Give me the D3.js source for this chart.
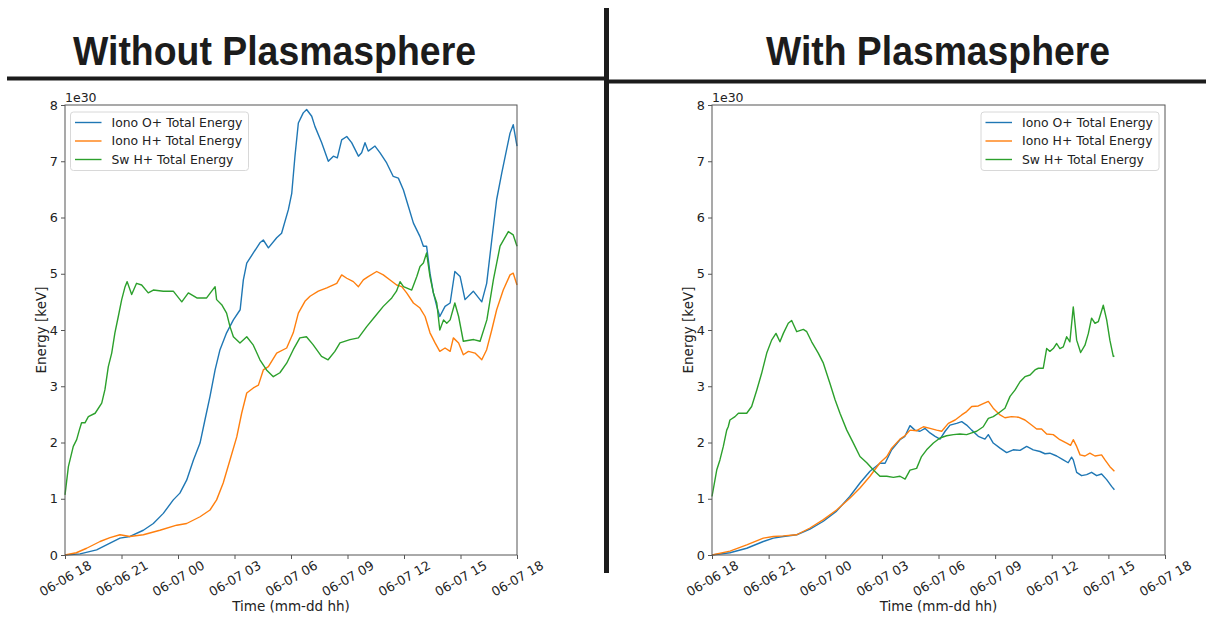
<!DOCTYPE html>
<html><head><meta charset="utf-8">
<script src="https://cdn.jsdelivr.net/npm/d3@7"></script>
<style>body{margin:0;background:#fff}</style>
</head><body>
<svg id="c" width="1206" height="617" xmlns="http://www.w3.org/2000/svg"></svg>
<script>
// ---- Data (hours since 06-06 18:00, energy in units of 1e30 keV) ----
const titles = ["Without Plasmasphere", "With Plasmasphere"];
const seriesNames = ["Iono O+ Total Energy", "Iono H+ Total Energy", "Sw H+ Total Energy"];
const tickHours = [0, 3, 6, 9, 12, 15, 18, 21, 24];
const yTicks = [0, 1, 2, 3, 4, 5, 6, 7, 8];

// Without plasmasphere
const woO_t = [0,0.8,1.68,2.39,2.92,3.45,4.16,4.69,5.22,5.75,6.1,6.46,6.82,7.17,7.43,7.7,7.97,8.23,8.58,8.94,9.3,9.47,9.65,10.0,10.35,10.53,10.8,11.24,11.5,11.86,12.04,12.21,12.39,12.65,12.83,13.1,13.27,13.63,13.98,14.25,14.46,14.69,14.96,15.22,15.58,15.75,15.93,16.1,16.46,16.73,17.08,17.43,17.7,17.97,18.23,18.5,18.85,19.03,19.2,19.38,19.56,19.74,19.9,20.18,20.45,20.7,20.98,21.24,21.68,22.13,22.39,22.66,22.92,23.19,23.45,23.63,23.8,24];
const woO_v = [0,0.02,0.09,0.21,0.3,0.33,0.44,0.56,0.74,0.98,1.1,1.33,1.69,1.99,2.4,2.82,3.29,3.65,3.95,4.18,4.36,4.89,5.19,5.37,5.55,5.6,5.46,5.64,5.72,6.14,6.43,7.09,7.68,7.86,7.92,7.8,7.62,7.33,7.0,7.09,7.06,7.38,7.44,7.33,7.09,7.15,7.33,7.18,7.27,7.15,6.97,6.73,6.7,6.49,6.2,5.9,5.66,5.49,5.49,5.01,4.66,4.42,4.24,4.42,4.48,5.04,4.95,4.54,4.69,4.5,4.83,5.6,6.32,6.79,7.21,7.5,7.65,7.27];
const woH_t = [0,0.6,1.15,1.86,2.39,2.92,3.45,4.16,5.04,5.93,6.46,7.17,7.7,8.05,8.4,8.76,9.12,9.38,9.65,10.0,10.27,10.53,10.8,11.24,11.77,12.12,12.39,12.74,13.01,13.45,13.9,14.43,14.69,14.96,15.31,15.58,15.84,16.1,16.55,16.9,17.26,17.61,17.88,18.14,18.5,18.85,19.12,19.38,19.65,19.9,20.18,20.45,20.62,20.9,21.15,21.42,21.77,22.13,22.39,22.66,22.92,23.27,23.63,23.8,24];
const woH_v = [0,0.04,0.12,0.24,0.31,0.36,0.33,0.36,0.44,0.53,0.56,0.68,0.8,0.98,1.28,1.69,2.1,2.52,2.88,2.97,3.02,3.29,3.35,3.59,3.68,3.95,4.3,4.51,4.6,4.69,4.75,4.83,4.98,4.92,4.86,4.77,4.89,4.95,5.04,4.98,4.89,4.8,4.77,4.66,4.48,4.39,4.24,3.95,3.77,3.62,3.68,3.62,3.86,3.77,3.56,3.62,3.59,3.47,3.65,4.0,4.36,4.71,4.98,5.01,4.8];
const woSw_t = [0,0.18,0.44,0.62,0.76,0.88,1.06,1.24,1.6,1.95,2.12,2.3,2.48,2.65,2.83,3.01,3.19,3.3,3.54,3.8,4.07,4.42,4.69,5.22,5.75,6.2,6.55,7.0,7.52,7.97,8.05,8.32,8.58,8.76,8.94,9.29,9.65,10.0,10.35,10.7,11.06,11.41,11.77,12.12,12.47,12.82,13.17,13.62,13.97,14.33,14.6,15.13,15.58,16.02,16.46,16.9,17.35,17.6,17.79,17.97,18.41,18.68,18.85,19.03,19.2,19.38,19.56,19.74,19.9,20.1,20.27,20.45,20.7,20.9,21.15,21.7,22.04,22.4,22.75,23.1,23.54,23.8,24];
const woSw_v = [1.07,1.57,1.93,2.05,2.22,2.35,2.35,2.46,2.52,2.7,2.94,3.35,3.59,3.95,4.24,4.54,4.77,4.86,4.63,4.83,4.8,4.66,4.71,4.69,4.69,4.5,4.66,4.57,4.57,4.77,4.54,4.45,4.3,4.06,3.88,3.77,3.88,3.73,3.47,3.29,3.17,3.24,3.41,3.65,3.86,3.88,3.74,3.53,3.47,3.62,3.77,3.83,3.86,4.06,4.24,4.42,4.57,4.69,4.86,4.77,4.71,4.95,5.13,5.19,5.37,4.95,4.66,4.48,4.0,4.18,4.12,4.18,4.48,4.24,3.8,3.83,3.8,4.18,4.9,5.49,5.75,5.69,5.49];

// With plasmasphere
const wO_t = [0,0.95,1.84,2.72,3.25,3.78,4.49,5.19,5.9,6.6,7.3,7.84,8.37,8.9,9.17,9.52,9.96,10.22,10.49,10.75,11.02,11.29,11.55,11.82,12.08,12.35,12.61,12.96,13.23,13.49,13.76,14.11,14.46,14.64,14.9,15.26,15.61,15.96,16.32,16.67,17.02,17.38,17.64,17.9,18.26,18.61,18.87,19.05,19.14,19.32,19.58,19.85,20.11,20.38,20.64,20.91,21.17,21.32];
const wO_v = [0,0.04,0.12,0.24,0.30,0.33,0.36,0.46,0.6,0.78,1.04,1.28,1.49,1.63,1.63,1.87,2.05,2.11,2.3,2.22,2.2,2.25,2.17,2.11,2.06,2.2,2.31,2.34,2.37,2.31,2.22,2.11,2.06,2.14,1.99,1.9,1.82,1.87,1.86,1.93,1.87,1.84,1.8,1.81,1.76,1.69,1.64,1.74,1.69,1.47,1.41,1.43,1.47,1.41,1.44,1.34,1.22,1.16];
const wH_t = [0,0.95,1.84,2.72,3.25,3.78,4.49,5.19,5.9,6.6,7.3,7.84,8.37,8.9,9.26,9.52,9.96,10.22,10.49,10.84,11.2,11.55,11.9,12.17,12.52,12.88,13.23,13.49,13.76,14.11,14.37,14.64,14.9,15.26,15.52,15.87,16.23,16.58,16.93,17.2,17.46,17.73,18.08,18.43,18.79,19.0,19.14,19.32,19.5,19.76,20.02,20.29,20.64,20.82,21.08,21.32];
const wH_v = [0,0.07,0.18,0.3,0.33,0.34,0.36,0.48,0.63,0.8,1.01,1.19,1.4,1.64,1.75,1.9,2.06,2.12,2.22,2.21,2.28,2.25,2.22,2.2,2.34,2.4,2.49,2.55,2.64,2.65,2.69,2.73,2.61,2.49,2.44,2.46,2.45,2.4,2.31,2.24,2.24,2.15,2.14,2.05,1.99,1.95,2.05,1.93,1.78,1.76,1.81,1.76,1.78,1.69,1.57,1.49];
const wSw_t = [0,0.25,0.42,0.6,0.78,0.86,0.95,1.22,1.4,1.84,2.1,2.37,2.63,2.9,3.16,3.39,3.6,3.78,4.04,4.22,4.49,4.84,5.02,5.28,5.63,5.9,6.25,6.52,6.78,7.14,7.49,7.84,8.2,8.55,8.9,9.26,9.61,9.96,10.23,10.49,10.84,11.1,11.37,11.73,12.08,12.43,12.79,13.14,13.49,13.76,14.02,14.37,14.64,14.9,15.17,15.52,15.79,16.05,16.32,16.58,16.85,17.11,17.29,17.55,17.73,17.9,18.08,18.26,18.43,18.61,18.79,18.96,19.14,19.32,19.53,19.76,19.94,20.11,20.29,20.47,20.73,20.91,21.08,21.26,21.32];
const wSw_v = [1.04,1.51,1.69,1.93,2.22,2.28,2.4,2.46,2.52,2.52,2.64,2.93,3.23,3.59,3.82,3.94,3.79,3.94,4.12,4.17,3.97,4.01,3.97,3.79,3.59,3.41,3.05,2.76,2.52,2.22,1.99,1.75,1.64,1.51,1.40,1.40,1.38,1.40,1.35,1.51,1.54,1.75,1.87,1.99,2.08,2.12,2.14,2.15,2.14,2.17,2.2,2.28,2.43,2.46,2.52,2.61,2.82,2.93,3.08,3.17,3.2,3.29,3.32,3.32,3.67,3.62,3.67,3.76,3.67,3.70,3.88,3.79,4.41,3.82,3.6,3.73,3.94,4.21,4.12,4.15,4.44,4.18,3.82,3.53,3.54];

const colors = ["#1f77b4", "#ff7f0e", "#2ca02c"];

// ---- Drawing ----
const svg = d3.select("#c");
const start = Date.UTC(2000, 5, 6, 18);
const toDate = h => new Date(start + h * 3600e3);
const FONT = "'DejaVu Sans', sans-serif";

svg.append("rect").attr("width", 1206).attr("height", 617).attr("fill", "#fff");

// Heavy divider lines
svg.append("rect").attr("x", 7).attr("y", 76.5).attr("width", 600).attr("height", 4).attr("fill", "#1c1c1c");
svg.append("rect").attr("x", 606).attr("y", 79.5).attr("width", 600).attr("height", 4).attr("fill", "#1c1c1c");
svg.append("rect").attr("x", 604).attr("y", 8).attr("width", 5).attr("height", 565).attr("fill", "#1c1c1c");

// Titles
const titleSpec = [{x0: 73, x1: 476}, {x0: 766, x1: 1110}];
titles.forEach((t, i) => {
  svg.append("text").attr("x", titleSpec[i].x0).attr("y", 65)
    .attr("font-family", "'Liberation Sans', Arial, Helvetica, sans-serif")
    .attr("font-weight", "bold").attr("font-size", 40).attr("fill", "#1c1c1c")
    .attr("textLength", titleSpec[i].x1 - titleSpec[i].x0)
    .attr("lengthAdjust", "spacingAndGlyphs").text(t);
});

function panel(cfg) {
  const x = d3.scaleUtc().domain([toDate(0), toDate(24)]).range([cfg.x0, cfg.x1]);
  const y = d3.scaleLinear().domain([0, 8]).range([555, 105]);
  const g = svg.append("g");

  const line = d3.line().x(d => x(toDate(d[0]))).y(d => y(d[1]));
  cfg.series.forEach((s, i) => {
    const pts = s.t.map((t, k) => [t, s.v[k]]);
    g.append("path").datum(pts).attr("d", line).attr("fill", "none")
      .attr("stroke", colors[i]).attr("stroke-width", 1.4).attr("stroke-linejoin", "round");
  });

  // spines
  g.append("rect").attr("x", cfg.x0).attr("y", 105).attr("width", cfg.x1 - cfg.x0).attr("height", 450)
    .attr("fill", "none").attr("stroke", "#555").attr("stroke-width", 1);

  const xAxis = d3.axisBottom(x).tickValues(tickHours.map(toDate))
    .tickFormat(d3.utcFormat("%m-%d %H")).tickSize(4).tickSizeOuter(0);
  const gx = g.append("g").attr("transform", "translate(0,555)").call(xAxis);
  gx.select(".domain").remove();
  gx.selectAll("line").attr("stroke", "#555");
  gx.selectAll("text").attr("y", 0).attr("dy", "0.35em")
    .attr("text-anchor", "middle").attr("transform", "translate(0,23.5) rotate(-30)")
    .attr("font-family", FONT).attr("font-size", 12.8).attr("fill", "#222");

  const yAxis = d3.axisLeft(y).tickValues(yTicks).tickFormat(d3.format("d")).tickSize(4).tickSizeOuter(0);
  const gy = g.append("g").attr("transform", `translate(${cfg.x0},0)`).call(yAxis);
  gy.select(".domain").remove();
  gy.selectAll("line").attr("stroke", "#555");
  gy.selectAll("text").attr("x", -7).attr("font-family", FONT).attr("font-size", 12.8).attr("fill", "#222");

  // offset text
  g.append("text").attr("x", cfg.x0).attr("y", 102).attr("font-family", FONT)
    .attr("font-size", 12.5).attr("fill", "#222").text("1e30");

  // axis labels
  g.append("text").attr("x", (cfg.x0 + cfg.x1) / 2).attr("y", 611).attr("text-anchor", "middle")
    .attr("font-family", FONT).attr("font-size", 13.5).attr("fill", "#222").text("Time (mm-dd hh)");
  g.append("text").attr("transform", `translate(${cfg.x0 - 19},330) rotate(-90)`)
    .attr("text-anchor", "middle").attr("font-family", FONT).attr("font-size", 13.5)
    .attr("fill", "#222").text("Energy [keV]");

  // legend
  const lg = g.append("g").attr("transform", `translate(${cfg.legX},112)`);
  lg.append("rect").attr("width", 178).attr("height", 58.5).attr("rx", 3)
    .attr("fill", "#fff").attr("fill-opacity", 0.8).attr("stroke", "#d8d8d8").attr("stroke-width", 1);
  seriesNames.forEach((n, i) => {
    const yy = 10.5 + i * 18.5;
    lg.append("line").attr("x1", 4.5).attr("x2", 31).attr("y1", yy).attr("y2", yy)
      .attr("stroke", colors[i]).attr("stroke-width", 1.4);
    lg.append("text").attr("x", 41).attr("y", yy).attr("dy", "0.36em")
      .attr("font-family", FONT).attr("font-size", 12.4).attr("fill", "#222").text(n);
  });
}

panel({x0: 65, x1: 517, legX: 70.5,
  series: [{t: woO_t, v: woO_v}, {t: woH_t, v: woH_v}, {t: woSw_t, v: woSw_v}]});
panel({x0: 712, x1: 1165, legX: 981,
  series: [{t: wO_t, v: wO_v}, {t: wH_t, v: wH_v}, {t: wSw_t, v: wSw_v}]});
</script>
</body></html>
